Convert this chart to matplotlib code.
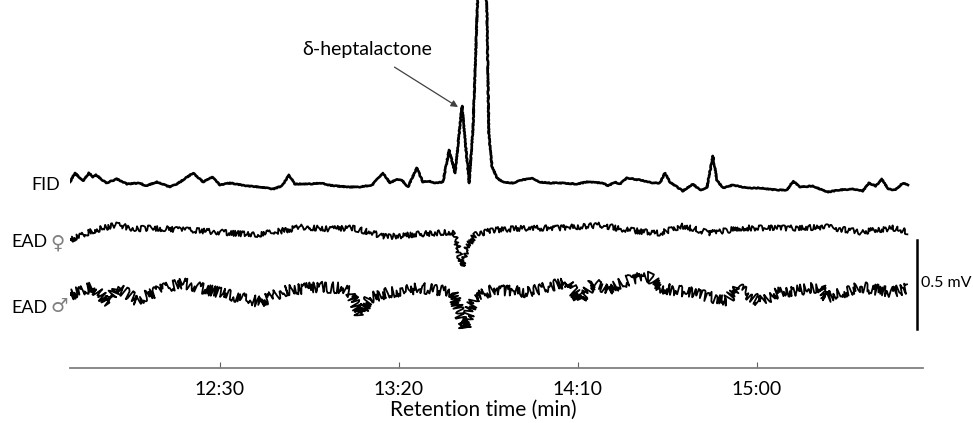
import matplotlib
matplotlib.use("Agg")
import matplotlib.pyplot as plt
import numpy as np

plt.rcParams['font.family'] = ['Lato', 'DejaVu Sans']

# retention time in seconds, FID response (a.u.)
fid_t = [708.1, 709.5, 711.7, 713.4, 714.5, 715.4, 718.2, 721.2, 724.0, 727.7,
         729.1, 732.4, 736.0, 738.0, 742.5, 745.3, 747.8, 750.0, 752.8, 757.5,
         761.2, 764.8, 767.3, 769.3, 770.9, 775.1, 778.5, 779.9, 785.5, 789.1,
         792.5, 795.5, 797.5, 799.4, 800.8, 802.5, 805.0, 806.7, 808.4, 810.1,
         812.3, 814.0, 815.7, 817.6, 819.6, 820.7, 821.8, 823.2, 824.6, 825.1,
         826.0, 827.4, 829.0, 831.8, 834.4, 837.2, 839.4, 842.2, 845.0, 849.7,
         852.5, 857.0, 858.4, 860.3, 861.7, 863.7, 867.3, 870.9, 872.9, 874.3,
         875.7, 879.3, 882.1, 884.1, 886.0, 887.7, 888.8, 890.5, 893.3, 897.2,
         900.8, 905.6, 908.4, 910.1, 912.0, 915.6, 919.6, 923.2, 926.8, 929.6,
         931.3, 933.2, 934.9, 936.6, 938.6, 940.8, 942.2]
fid_v = [3, 12, 4, 12, 8, 10, 2, 6, 1, 2,
         -1, 3, -2, 1, 12, 3, 8, 0, 2, -1,
         -2, -4, -1, 10, 1, 1, 2, 0, -2, -2,
         0, 12, 2, 6, 5, -2, 17, 3, 4, 2,
         3, 35, 12, 79, 2, 58, 168, 320, 168, 52,
         18, 7, 3, 2, 5, 7, 3, 2, 2, 1,
         3, 2, -1, 3, 1, 7, 5, 2, 2, 12,
         3, -6, 1, -5, -3, 29, 5, -3, 0, -3,
         -3, -5, -5, 4, -2, -1, -7, -5, -4, -6,
         2, -1, 6, -4, -5, 2, 0]

# EAD female (uV), centre of the noisy trace
fem_t = [708.1, 710.9, 715.1, 721.2, 726.3, 731.3, 740.2, 750.0, 759.2, 766.8,
         773.2, 780.7, 787.2, 796.6, 805.9, 810.6, 815.1, 816.2, 817.6, 819.0,
         821.2, 826.3, 835.8, 845.0, 856.2, 863.7, 872.9, 879.3, 886.9, 896.1,
         910.1, 919.6, 928.8, 938.0, 942.2]
fem_v = [-56, -34, 0, 28, 6, 11, 0, -11, -28, -6,
         17, 6, 11, -39, -22, -17, -11, -73, -205, -96,
         -28, 0, 11, 11, 28, 0, -17, 22, -17, 11,
         11, 17, -11, 11, -11]

# EAD male (uV)
male_t = [708.1, 714.5, 718.7, 721.2, 726.8, 733.2, 739.7, 750.0, 761.2, 768.7,
          777.9, 783.5, 786.3, 789.1, 791.9, 796.6, 805.9, 815.1, 817.0, 818.4,
          819.8, 821.2, 826.3, 835.8, 846.9, 850.6, 854.2, 858.1, 864.5, 870.1,
          872.9, 882.1, 891.6, 894.4, 900.8, 905.6, 917.6, 919.6, 928.8, 938.0,
          942.2]
male_v = [-22, 22, -67, 22, -51, 6, 45, -11, -62, 6,
          22, 17, -6, -130, -39, -11, 17, -6, -130, -210,
          -110, -34, 6, -6, 51, -50, 45, 6, 65, 80,
          17, -11, -55, 22, -60, -11, 22, -35, 22, -6,
          17]

ticks = [750, 800, 850, 900]
tick_labels = ['12:30', '13:20', '14:10', '15:00']

# layout (mV units on the y axis)
px = 0.5 / 89
fid_base, fem_base, male_base = 183 * px, 138 * px, 77 * px

fig = plt.figure(figsize=(9.73, 4.23), dpi=100)
ax = fig.add_axes([70 / 973, 55 / 423, 853 / 973, 368 / 423])
ax.set_xlim(708.1, 946.4)
ax.set_ylim(0, 368 * px)

fid_line, = ax.plot(fid_t, fid_base + np.array(fid_v) * px, color='black',
                    lw=1.9, solid_joinstyle='round')
fid_line.set_sketch_params(scale=0.4, length=2, randomness=4)

# noisy EAD recordings: jagged line style
fem_line, = ax.plot(fem_t, fem_base + np.array(fem_v) / 1000, color='black', lw=1.3)
fem_line.set_sketch_params(scale=2.8, length=0.6, randomness=3)
male_line, = ax.plot(male_t, male_base + np.array(male_v) / 1000, color='black', lw=1.3)
male_line.set_sketch_params(scale=5.5, length=0.6, randomness=3)

for s in ['top', 'left', 'right']:
    ax.spines[s].set_visible(False)
ax.spines['bottom'].set_color('#808080')
ax.spines['bottom'].set_linewidth(1.3)
ax.set_yticks([])
ax.set_xticks(ticks)
ax.set_xticklabels(tick_labels, fontsize=14)
ax.tick_params(axis='x', direction='in', length=4, color='#606060', pad=9)
ax.set_xlabel('Retention time (min)', fontsize=15, labelpad=0)
ax.xaxis.set_label_coords(0.484, -0.086)

# scale bar
ax.plot([944.7, 944.7], [0.219, 0.719], color='black', lw=1.8, clip_on=False)
ax.text(945.8, 0.4775, '0.5 mV', fontsize=11.5, va='center', ha='left')

# trace labels
ax.text(705.3, 1.028, 'FID', fontsize=13, va='center', ha='right')
ax.text(701.8, 0.708, 'EAD', fontsize=13, va='center', ha='right')
ax.text(702.6, 0.700, '\u2640', fontsize=14, va='center', ha='left', color='#808080')
ax.text(701.8, 0.337, 'EAD', fontsize=13, va='center', ha='right')
ax.text(702.6, 0.345, '\u2642', fontsize=14, va='center', ha='left', color='#808080')

ax.annotate('\u03b4-heptalactone', xy=(816.5, 1.466), xytext=(791.1, 1.787),
            fontsize=14, ha='center', va='center',
            arrowprops=dict(arrowstyle='-|>', color='#404040', lw=0.9,
                            shrinkA=8, shrinkB=0, mutation_scale=10))

fig.savefig('out.png', dpi=100)
